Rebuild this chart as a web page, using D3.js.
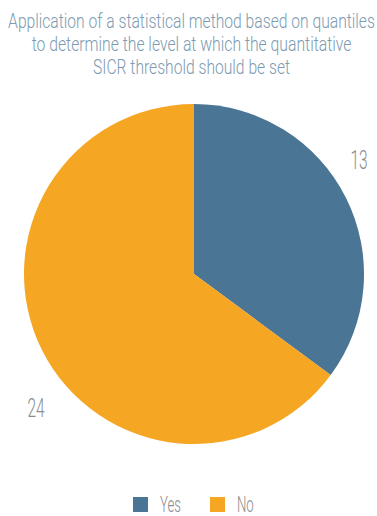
<!DOCTYPE html>
<html>
<head>
<meta charset="utf-8">
<script src="https://cdn.jsdelivr.net/npm/d3@7"></script>
<style>
  html, body { margin: 0; padding: 0; background: #fff; }
  svg { display: block; }
  text { font-family: "Roboto", "Liberation Sans Narrow", sans-serif; font-weight: 300; }
</style>
</head>
<body>
<svg id="chart" width="377" height="516"></svg>
<script>
// Survey answers
const categories = ["Yes", "No"];
const values = [13, 24];
const colors = ["#4a7594", "#f5a623"];
const titleLines = [
  "Application of a statistical method based on quantiles",
  "to determine the level at which the quantitative",
  "SICR threshold should be set"
];

const svg = d3.select("#chart");
const W = 377;
const cx = 194, cy = 274, r = 170;

// Squeeze a text horizontally around its anchor point to get a condensed face
function condensed(sel, x, y, sx) {
  sel.attr("transform", `translate(${x},${y}) scale(${sx},1)`);
  return sel;
}

// Title
const titleWidths = [367, 320, 197];
const titleBase = [28, 51, 74];
titleLines.forEach((t, i) => {
  const txt = svg.append("text")
    .attr("text-anchor", "middle")
    .attr("font-size", 20)
    .attr("fill", "#7d9ab0")
    .text(t);
  const natural = txt.node().getComputedTextLength();
  condensed(txt, W / 2 + 3, titleBase[i], titleWidths[i] / natural);
});

// Pie, starting at 12 o'clock and running clockwise
const pie = d3.pie().sort(null).value(d => d)(values);
const arc = d3.arc().innerRadius(0).outerRadius(r);
const g = svg.append("g").attr("transform", `translate(${cx},${cy})`);
g.selectAll("path")
  .data(pie)
  .join("path")
  .attr("d", arc)
  .attr("fill", (d, i) => colors[i]);

// Value labels outside the slices
const labelPos = [[359, 169], [36, 417]];
pie.forEach((d, i) => {
  const txt = g.append("text")
    .attr("text-anchor", "middle")
    .attr("font-size", 25)
    .attr("fill", "#8c8c8c")
    .text(d.data);
  condensed(txt, labelPos[i][0] - cx, labelPos[i][1] - cy, 0.62);
});

// Legend
const legendX = [133, 210];
const legend = svg.append("g");
categories.forEach((c, i) => {
  legend.append("rect")
    .attr("x", legendX[i]).attr("y", 497)
    .attr("width", 15).attr("height", 15)
    .attr("fill", colors[i]);
  const txt = legend.append("text")
    .attr("font-size", 22)
    .attr("fill", "#8c8c8c")
    .text(c);
  condensed(txt, legendX[i] + 27, 512, 0.6);
});
</script>
</body>
</html>
